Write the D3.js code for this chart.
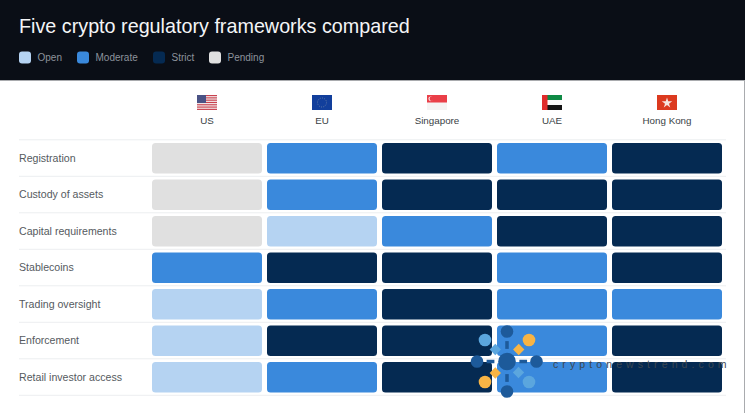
<!DOCTYPE html>
<html lang="en">
<head>
<meta charset="UTF-8">
<title>Five crypto regulatory frameworks compared</title>
<script src="https://d3js.org/d3.v7.min.js"></script>
<style>
  html, body { margin: 0; padding: 0; background: #fff; overflow: hidden; }
  svg { display: block; }
  text { font-family: "Liberation Sans", Arial, sans-serif; }
</style>
</head>
<body>
<svg id="chart" width="745" height="413"></svg>
<script>
const title = "Five crypto regulatory frameworks compared";
const levels = ["Open", "Moderate", "Strict", "Pending"];
const levelColors = ["#b5d3f2", "#3a89dc", "#052a52", "#e0e0e0"];
const regions = ["US", "EU", "Singapore", "UAE", "Hong Kong"];
const topics = ["Registration", "Custody of assets", "Capital requirements", "Stablecoins", "Trading oversight", "Enforcement", "Retail investor access"];

// one list per region, top row to bottom row
const usLevels = ["Pending", "Pending", "Pending", "Moderate", "Open", "Open", "Open"];
const euLevels = ["Moderate", "Moderate", "Open", "Strict", "Moderate", "Strict", "Moderate"];
const sgLevels = ["Strict", "Strict", "Moderate", "Strict", "Strict", "Strict", "Strict"];
const uaeLevels = ["Moderate", "Strict", "Strict", "Moderate", "Moderate", "Moderate", "Moderate"];
const hkLevels = ["Strict", "Strict", "Strict", "Strict", "Moderate", "Strict", "Strict"];
const regionLevels = [usLevels, euLevels, sgLevels, uaeLevels, hkLevels];

const svg = d3.select("#chart");
const color = d3.scaleOrdinal().domain(levels).range(levelColors);

const x = d3.scaleBand().domain(regions).range([152, 722]).paddingInner(0.0435);
const y = d3.scaleBand().domain(topics).range([143, 392.5]).paddingInner(0.164);
const rowStep = y.step();

// header band and the thin grey edge
svg.append("rect").attr("width", 745).attr("height", 80).attr("fill", "#0a0e16");
svg.append("rect").attr("y", 80).attr("width", 745).attr("height", 1).attr("fill", "#a9abae");
svg.append("rect").attr("x", 744).attr("y", 80).attr("width", 1).attr("height", 333).attr("fill", "#a9abae");
svg.append("text").attr("x", 19).attr("y", 33).attr("font-size", 19.75).attr("fill", "#f4f5f6").text(title);

// legend
const legendX = [19, 77, 153, 209];
const legend = svg.append("g").selectAll("g").data(levels).join("g")
  .attr("transform", (d, i) => `translate(${legendX[i]},51.5)`);
legend.append("rect").attr("width", 12).attr("height", 12).attr("rx", 3).attr("fill", d => color(d));
legend.append("text").attr("x", 18.5).attr("y", 9.3).attr("font-size", 10).attr("fill", "#8d939c").text(d => d);

// row rules
svg.append("g").selectAll("line").data(d3.range(topics.length + 1)).join("line")
  .attr("x1", 19).attr("x2", 726)
  .attr("y1", d => y(topics[0]) - 3.2 + d * rowStep)
  .attr("y2", d => y(topics[0]) - 3.2 + d * rowStep)
  .attr("stroke", "#eceef0");

// row labels
svg.append("g").selectAll("text").data(topics).join("text")
  .attr("x", 19).attr("y", d => y(d) + y.bandwidth() / 2 + 3.6)
  .attr("font-size", 10.6).attr("fill", "#555a60").text(d => d);

// column labels
svg.append("g").selectAll("text").data(regions).join("text")
  .attr("x", d => x(d) + x.bandwidth() / 2).attr("y", 124)
  .attr("text-anchor", "middle").attr("font-size", 9.8).attr("fill", "#3a3f45").text(d => d);

// cells
const cells = regions.flatMap((r, i) => topics.map((t, j) => ({ region: r, topic: t, level: regionLevels[i][j] })));
svg.append("g").selectAll("rect").data(cells).join("rect")
  .attr("x", d => x(d.region)).attr("y", d => y(d.topic))
  .attr("width", x.bandwidth()).attr("height", y.bandwidth())
  .attr("rx", 3.5).attr("fill", d => color(d.level));

// flags, 20x15 around the column centre
const flagW = 20, flagH = 15, flagY = 95;
function flag(region) {
  return svg.append("g").attr("transform", `translate(${x(region) + x.bandwidth() / 2 - flagW / 2},${flagY})`);
}
function bar(g, bx, by, w, h, fill) {
  g.append("rect").attr("x", bx).attr("y", by).attr("width", w).attr("height", h).attr("fill", fill);
}

const us = flag("US");
bar(us, 0, 0, flagW, flagH, "#f3eeee");
d3.range(0, 7).forEach(i => bar(us, 0, i * 2.3, flagW, 1.15, "#c9424f"));
bar(us, 0, 0, 9, 8, "#4a5285");

const eu = flag("EU");
bar(eu, 0, 0, flagW, flagH, "#123f9c");
eu.append("circle").attr("cx", 10).attr("cy", 7.5).attr("r", 4.5).attr("fill", "none")
  .attr("stroke", "#6f86a8").attr("stroke-width", 0.9).attr("stroke-dasharray", "0.9 1.4");

const sg = flag("Singapore");
bar(sg, 0, 0, flagW, flagH, "#f5f3f3");
bar(sg, 0, 0, flagW, 7.5, "#ea3f48");
sg.append("circle").attr("cx", 3.8).attr("cy", 3.8).attr("r", 2.4).attr("fill", "#f8dfe0");
sg.append("circle").attr("cx", 4.8).attr("cy", 3.8).attr("r", 2.2).attr("fill", "#ea3f48");

const uae = flag("UAE");
bar(uae, 0, 0, flagW, 5, "#0f8a45");
bar(uae, 0, 5, flagW, 5, "#fafafa");
bar(uae, 0, 10, flagW, 5, "#141414");
bar(uae, 0, 0, 5.5, flagH, "#e02b2b");

const hk = flag("Hong Kong");
bar(hk, 0, 0, flagW, flagH, "#dc3a1f");
hk.append("path").attr("d", d3.symbol(d3.symbolStar, 34)()).attr("transform", "translate(10,8)").attr("fill", "#f6e4de");

// watermark
const markX = 507, markY = 361.5;
const mark = svg.append("g").attr("transform", `translate(${markX},${markY})`);
const spokes = [[0, -30, "#1d5a9a"], [29.5, 0, "#1d5a9a"], [0, 30, "#1d5a9a"], [-30, 0, "#1d5a9a"]];
spokes.forEach(s => {
  mark.append("line").attr("x1", s[0] * 0.42).attr("y1", s[1] * 0.42).attr("x2", s[0] * 0.68).attr("y2", s[1] * 0.68)
    .attr("stroke", s[2]).attr("stroke-width", 3.5);
  mark.append("circle").attr("cx", s[0]).attr("cy", s[1]).attr("r", 6.3).attr("fill", s[2]);
});
[[-22, -21.5, "#5ba6de"], [22, 20.5, "#5ba6de"], [22, -21.5, "#f7b445"], [-22, 20.5, "#f7b445"]].forEach(s => {
  mark.append("circle").attr("cx", s[0]).attr("cy", s[1]).attr("r", 6.3).attr("fill", s[2]);
});
[[-11.7, -12, "#5ba6de"], [11.5, 11, "#5ba6de"], [11.7, -12, "#f7b445"], [-11.7, 11.5, "#f7b445"]].forEach(s => {
  mark.append("rect").attr("x", s[0] - 4).attr("y", s[1] - 4).attr("width", 8).attr("height", 8)
    .attr("transform", `rotate(45 ${s[0]} ${s[1]})`).attr("fill", s[2]);
});
mark.append("circle").attr("r", 8.8).attr("fill", "#1d5a9a");
svg.append("text").attr("x", 553).attr("y", 368).attr("font-size", 10.5).attr("letter-spacing", 4.1)
  .attr("fill", "#3c4650").text("cryptonewstrend.com");
</script>
</body>
</html>
